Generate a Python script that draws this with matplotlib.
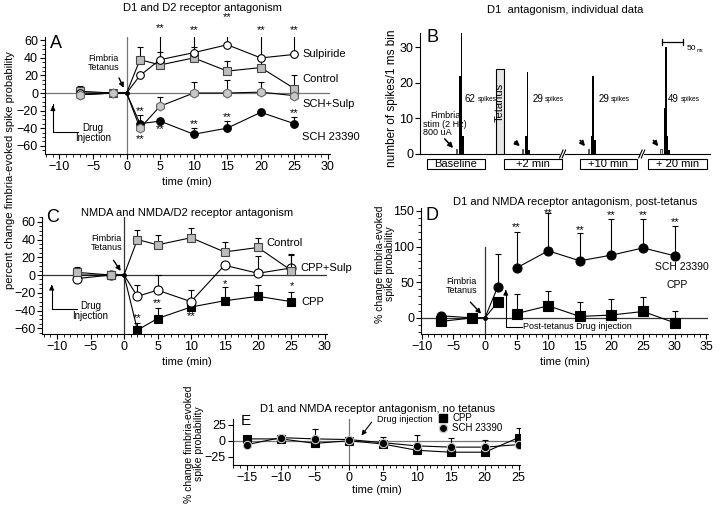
import matplotlib
matplotlib.use('Agg')
import matplotlib.pyplot as plt
from matplotlib.patches import Rectangle
from matplotlib.ticker import MultipleLocator
import numpy as np

plt.rcParams['font.family'] = ['Liberation Sans', 'DejaVu Sans']

W, H = 720, 512

# ---- panel A: D1 and D2 receptor antagonism
time_ac = [-7, -2, 0, 2, 5, 10, 15, 20, 25]
a_sch = [-2, 0, 0, -35, -32, -47, -40, -22, -35]
a_sch_err = [0, 0, 0, 10, 0, 7, 8, 0, 8]
a_schsulp = [-2, 0, 0, -40, -15, 0, 0, 1, -3]
a_schsulp_err = [0, 0, 0, 0, 10, 12, 15, 12, 0]
a_ctrl = [2, 0, 0, 38, 32, 40, 25, 29, 5]
a_ctrl_err = [6, 0, 0, 14, 15, 12, 12, 12, 15]
a_sulp = [0, 0, 0, 20, 38, 46, 55, 40, 44]
a_sulp_err = [0, 0, 0, 0, 33, 22, 28, 30, 26]
a_stars = [(5, 75, '**'), (10, 73, '**'), (15, 87, '**'), (20, 72, '**'), (25, 73, '**'),
           (2, -20, '**'), (2, -52, '**'), (5, -40, '**'), (10, -35, '**'), (15, -27, '**'),
           (25, -22, '**')]

# ---- panel B: individual histograms
trace_t0 = [85, 237.7, 389.6, 557.9]
spike_offsets = [7.5, 11.3, 15.0, 18.8]
spike_heights = [[22, 34, 5], [5, 23, 1], [5, 22, 4], [13, 30, 5, 1]]
spike_totals = ['62', '29', '29', '49']
spike_label_x = [104, 260, 413, 574]
box_labels = ['Baseline', '+2 min', '+10 min', '+ 20 min']
box_ranges = [(15.5, 150.5), (194.5, 328), (370, 502), (528, 664)]

# ---- panel C: NMDA and NMDA/D2 receptor antagonism
c_cpp = [0, 0, 0, -62, -49, -36, -29, -24, -30]
c_cpp_err = [0, 0, 0, 8, 12, 0, 15, 13, 11]
c_cppsulp = [-4, 0, 0, -24, -17, -30, 11, 2, 8]
c_cppsulp_err = [0, 0, 0, 13, 17, 13, 0, 19, 16]
c_ctrl = [3, 0, 0, 40, 34, 42, 26, 31, 5]
c_ctrl_err = [6, 0, 0, 11, 11, 11, 11, 11, 17]
c_stars = [(2, -48, '**'), (5, -31, '**'), (10, -46, '**'), (15, -9, '*'), (25, -12, '*')]

# ---- panel D: post-tetanus
time_d = [-7, -2, 0, 2, 5, 10, 15, 20, 25, 30]
d_sch = [3, 0, 0, 43, 70, 94, 80, 88, 98, 87]
d_sch_err = [0, 0, 0, 47, 51, 53, 39, 51, 41, 42]
d_cpp = [-5, 0, 0, 22, 6, 17, 2, 4, 9, -7]
d_cpp_err = [0, 0, 0, 0, 27, 21, 20, 23, 20, 17]
d_stars = [(5, 128, '**'), (10, 148, '**'), (15, 124, '**'), (20, 145, '**'), (25, 145, '**'),
           (30, 135, '**')]

# ---- panel E: no tetanus
time_e = [-15, -10, -5, 0, 5, 10, 15, 20, 25]
e_cpp = [3, 3, -4, 0, -5, -15, -18, -18, 5]
e_cpp_err = [0, 0, 0, 0, 0, 0, 0, 0, 15]
e_sch = [-6, 5, 3, 2, -3, -8, -10, -10, -6]
e_sch_err = [0, 0, 15, 0, 9, 17, 14, 11, 0]

GRAY = '#bdbdbd'


def fx(x):
    return x / W


def fy(y):
    return 1 - y / H


def make_axes(fig, left, right, top, bottom):
    ax = fig.add_axes([fx(left), fy(bottom), (right - left) / W, (bottom - top) / H])
    ax.patch.set_alpha(0)
    for s in ['top', 'right']:
        ax.spines[s].set_visible(False)
    for s in ['left', 'bottom']:
        ax.spines[s].set_linewidth(0.8)
    ax.tick_params(which='major', direction='out', length=3.5, width=0.8, labelsize=9, pad=1.5)
    ax.tick_params(which='minor', direction='out', length=2, width=0.6)
    return ax


def series(ax, x, y, err, marker, face, ms=5.5, edge='black', z=3, segments=None, skip_zero=True):
    x = np.asarray(x, float)
    y = np.asarray(y, float)
    err = np.asarray(err, float)
    m = err > 0
    if m.any():
        ax.errorbar(x[m], y[m], yerr=[np.zeros(m.sum()), err[m]], fmt='none', ecolor='black',
                    elinewidth=0.8, capsize=2.5, capthick=0.8, zorder=z - 0.5)
    parts = segments or [slice(None)]
    for sl in parts:
        ax.plot(x[sl], y[sl], '-', color='black', lw=0.8, zorder=z - 0.2)
    keep = x != 0 if skip_zero else np.ones(len(x), bool)
    ax.plot(x[keep], y[keep], ls='none', marker=marker, ms=ms, mfc=face, mec=edge, mew=0.8, zorder=z)


def stars(ax, items, fs=8):
    for x, y, s in items:
        ax.annotate(s, xy=(x, y), xytext=(0, -0.5), textcoords='offset points',
                    ha='center', va='center', fontsize=fs, zorder=6, annotation_clip=False)


fig = plt.figure(figsize=(7.2, 5.12), dpi=100)

# ================= A
ax = make_axes(fig, 45, 330, 37.3, 154)
ax.set_xlim(-12.15, 30.3)
ax.set_ylim(-69.5, 63.5)
ax.xaxis.set_minor_locator(MultipleLocator(1))
ax.yaxis.set_minor_locator(MultipleLocator(5))
ax.set_xticks([-10, -5, 0, 5, 10, 15, 20, 25, 30])
ax.set_yticks([-60, -40, -20, 0, 20, 40, 60])
ax.axhline(0, color='#777777', lw=0.9, zorder=1)
ax.axvline(0, color='#777777', lw=0.9, zorder=1)
series(ax, time_ac, a_sch, a_sch_err, 'o', 'black', z=3)
series(ax, time_ac, a_ctrl, a_ctrl_err, 's', GRAY, edge='#444444', z=4)
series(ax, time_ac, a_sulp, a_sulp_err, 'o', 'white', z=5)
series(ax, time_ac, a_schsulp, a_schsulp_err, 'h', '#c8c8c8', ms=6.5, edge='#666666', z=6)
ax.plot([0], [0], 'o', color='black', ms=2.5, zorder=7)
stars(ax, a_stars)
for txt, yv in [('Sulpiride', 45), ('Control', 16), ('SCH+Sulp', -12), ('SCH 23390', -50)]:
    ax.text(26.2, yv, txt, fontsize=8, va='center', ha='left')
ax.annotate('', xy=(-0.25, 3), xytext=(-1.3, 20),
            arrowprops=dict(arrowstyle='-|>', color='black', lw=1.0, mutation_scale=7))
ax.text(-3.5, 34, 'Fimbria\nTetanus', fontsize=6.5, ha='center', va='center', linespacing=1.0)
ax.plot([-10.97, -10.97, -7.25], [-13, -44, -44], color='black', lw=0.8, clip_on=False)
ax.annotate('', xy=(-10.97, -11), xytext=(-10.97, -20),
            arrowprops=dict(arrowstyle='-|>', color='black', lw=0.8, mutation_scale=7))
ax.text(-5.0, -45, 'Drug\nInjection', fontsize=7, ha='center', va='center', linespacing=1.0)
fig.text(fx(56), fy(44), 'A', fontsize=13, ha='center', va='center')
fig.text(fx(202), fy(8), 'D1 and D2 receptor antagonism', fontsize=8, ha='center', va='center')
fig.text(fx(187), fy(182), 'time (min)', fontsize=8, ha='center', va='center')
fig.text(fx(10), fy(170), 'percent change fimbria-evoked spike probability', fontsize=8,
         rotation=90, ha='center', va='center')

# ================= B
ax = make_axes(fig, 420, 710, 33, 154)
ax.set_xlim(0, 671)
ax.set_ylim(0, 34)
ax.set_xticks([])
ax.set_yticks([0, 10, 20, 30])
for t0, hts, tot, lx in zip(trace_t0, spike_heights, spike_totals, spike_label_x):
    ax.add_patch(Rectangle((t0 - 1.5, 0), 3.2, 1.5, fc='#e0e0e0', ec='#555555', lw=0.7, zorder=3))
    for off, h in zip(spike_offsets, hts):
        ax.bar(t0 + off, h, width=3.6, color='black', zorder=3)
    ax.text(lx, 15.4, tot, fontsize=7, va='center', ha='left')
    ax.annotate('spikes', xy=(lx, 15.4), xytext=(9, 0), textcoords='offset points',
                fontsize=4.8, va='center', ha='left')
ax.add_patch(Rectangle((175, 0), 20, 24, fc='#e6e6e6', ec='black', lw=0.8, zorder=3))
ax.text(185, 14.6, 'Tetanus', rotation=90, fontsize=8, ha='center', va='center', zorder=4)
for (x0, x1), lab in zip(box_ranges, box_labels):
    ax.add_patch(Rectangle((x0, -4.2), x1 - x0, 2.8, fc='white', ec='black', lw=0.8, clip_on=False))
    ax.text((x0 + x1) / 2, -2.75, lab, fontsize=8, ha='center', va='center', clip_on=False)
for bx in [330, 513]:
    ax.add_patch(Rectangle((bx - 5, -0.6), 10, 1.2, fc='white', ec='none', zorder=5, clip_on=False))
    for dx in [-3, 3]:
        ax.plot([bx + dx - 4, bx + dx + 4], [-1.1, 1.1], color='black', lw=0.8, zorder=6, clip_on=False)
arrows_b = [((81, 1.1), (53, 4.8)), ((236, 1.7), (215, 3.9)), ((386, 1.6), (366.5, 4.4)),
            ((555.6, 1.6), (536, 4.4))]
for head, tail in arrows_b:
    ax.annotate('', xy=head, xytext=tail,
                arrowprops=dict(arrowstyle='-|>', color='black', lw=1.2, mutation_scale=7))
ax.text(58, 9.5, 'Fimbria\nstim (2 Hz)', fontsize=6.5, ha='center', va='center', linespacing=1.0)
ax.text(39, 6, '800 uA', fontsize=6.5, ha='center', va='center')
ax.plot([559.5, 609.5], [31.5, 31.5], color='black', lw=0.9, clip_on=False)
ax.plot([559.5, 559.5], [30.6, 32.4], color='black', lw=0.9, clip_on=False)
ax.plot([609.5, 609.5], [30.6, 32.4], color='black', lw=0.9, clip_on=False)
ax.text(617, 29.6, '50', fontsize=6, ha='left', va='center')
ax.text(640, 29.0, 'ms', fontsize=3.5, ha='left', va='center')
fig.text(fx(432), fy(37.5), 'B', fontsize=13, ha='center', va='center')
fig.text(fx(565), fy(10), 'D1  antagonism, individual data', fontsize=8, ha='center', va='center')
fig.text(fx(392), fy(98), 'number of spikes/1 ms bin', fontsize=8.5, rotation=90,
         ha='center', va='center')

# ================= C
ax = make_axes(fig, 42.3, 327, 217.3, 334)
ax.set_xlim(-12.2, 30.3)
ax.set_ylim(-66.4, 65)
ax.xaxis.set_minor_locator(MultipleLocator(1))
ax.yaxis.set_minor_locator(MultipleLocator(5))
ax.set_xticks([-10, -5, 0, 5, 10, 15, 20, 25, 30])
ax.set_yticks([-60, -40, -20, 0, 20, 40, 60])
ax.axhline(0, color='#333333', lw=0.9, zorder=1)
ax.axvline(0, color='#333333', lw=0.9, zorder=1)
series(ax, time_ac, c_cpp, c_cpp_err, 's', 'black', z=3)
series(ax, time_ac, c_cppsulp, c_cppsulp_err, 'o', 'white', ms=6.5, z=4)
series(ax, time_ac, c_ctrl, c_ctrl_err, 's', GRAY, edge='#444444', ms=6, z=5)
ax.plot([0], [0], 'o', color='black', ms=2.5, zorder=7)
stars(ax, c_stars)
ax.text(21.3, 36, 'Control', fontsize=8, va='center')
ax.text(26.3, 8, 'CPP+Sulp', fontsize=8, va='center')
ax.text(26.5, -30, 'CPP', fontsize=8, va='center')
ax.annotate('', xy=(-0.25, 2), xytext=(-1.8, 19),
            arrowprops=dict(arrowstyle='-|>', color='black', lw=1.0, mutation_scale=7))
ax.text(-2.6, 35.5, 'Fimbria\nTetanus', fontsize=6.5, ha='center', va='center', linespacing=1.0)
ax.plot([-10.8, -10.8, -7.06], [-12, -38, -38], color='black', lw=0.8, clip_on=False)
ax.annotate('', xy=(-10.8, -8), xytext=(-10.8, -16),
            arrowprops=dict(arrowstyle='-|>', color='black', lw=0.8, mutation_scale=7))
ax.text(-5.0, -41, 'Drug\nInjection', fontsize=7, ha='center', va='center', linespacing=1.0)
fig.text(fx(52.5), fy(217), 'C', fontsize=13, ha='center', va='center')
fig.text(fx(187), fy(213), 'NMDA and NMDA/D2 receptor antagonism', fontsize=8, ha='center', va='center')
fig.text(fx(187), fy(362), 'time (min)', fontsize=8, ha='center', va='center')

# ================= D
ax = make_axes(fig, 421, 708.3, 208, 334.3)
ax.set_xlim(-10.1, 35.3)
ax.set_ylim(-23, 154)
ax.xaxis.set_minor_locator(MultipleLocator(1))
ax.yaxis.set_minor_locator(MultipleLocator(10))
ax.set_xticks([-10, -5, 0, 5, 10, 15, 20, 25, 30, 35])
ax.set_yticks([0, 50, 100, 150])
ax.axhline(0, color='#333333', lw=0.9, zorder=1)
ax.plot([0, 0], [-23, 99], color='#333333', lw=0.9, zorder=1)
segs = [slice(0, 4), slice(4, None)]
series(ax, time_d, d_cpp, d_cpp_err, 's', 'black', ms=6.5, z=3, segments=segs)
series(ax, time_d, d_sch, d_sch_err, 'o', 'black', ms=6.5, z=4, segments=segs)
ax.plot([0], [0], 'o', color='black', ms=2.5, zorder=7)
stars(ax, d_stars)
ax.text(26.8, 71, 'SCH 23390', fontsize=7.5, va='center')
ax.text(28.7, 46, 'CPP', fontsize=7.5, va='center')
ax.annotate('', xy=(-0.3, 3), xytext=(-2.6, 25),
            arrowprops=dict(arrowstyle='-|>', color='black', lw=1.0, mutation_scale=7))
ax.text(-3.7, 45, 'Fimbria\nTetanus', fontsize=6.5, ha='center', va='center', linespacing=1.0)
ax.plot([5.8, 3.3, 3.3], [-12.5, -12.5, 35], color='black', lw=0.8)
ax.annotate('', xy=(3.3, 43), xytext=(3.3, 33),
            arrowprops=dict(arrowstyle='-|>', color='black', lw=0.8, mutation_scale=7))
ax.text(6.0, -12.5, 'Post-tetanus Drug injection', fontsize=6.5, va='center', ha='left')
fig.text(fx(432), fy(216), 'D', fontsize=13, ha='center', va='center')
fig.text(fx(575), fy(202), 'D1 and NMDA receptor antagonism, post-tetanus', fontsize=8,
         ha='center', va='center')
fig.text(fx(565), fy(362), 'time (min)', fontsize=8, ha='center', va='center')
fig.text(fx(385), fy(264), '% change fimbria-evoked\nspike probability', fontsize=7.5, rotation=90,
         ha='center', va='center', linespacing=0.95)

# ================= E
ax = make_axes(fig, 232.7, 520, 419, 465)
ax.set_xlim(-17.1, 25.2)
ax.set_ylim(-38.2, 34.4)
ax.xaxis.set_minor_locator(MultipleLocator(1))
ax.set_xticks([-15, -10, -5, 0, 5, 10, 15, 20, 25])
ax.set_yticks([-25, 0, 25])
ax.axhline(0, color='#777777', lw=0.9, zorder=1)
ax.axvline(0, color='#777777', lw=0.9, zorder=1)
series(ax, time_e, e_cpp, e_cpp_err, 's', 'black', ms=6, z=3, skip_zero=False)
series(ax, time_e, e_sch, e_sch_err, 'o', 'black', ms=6, edge='#cccccc', z=4, skip_zero=False)
ax.annotate('', xy=(1.62, 4.9), xytext=(3.6, 33),
            arrowprops=dict(arrowstyle='-|>', color='black', lw=0.8, mutation_scale=7))
ax.text(4.1, 34, 'Drug injection', fontsize=6.5, va='center', ha='left', clip_on=False)
ax.plot([13.9], [36.5], 's', color='black', ms=6, clip_on=False)
ax.plot([13.9], [20], 'o', color='black', ms=6, mec='#cccccc', clip_on=False)
ax.text(15.2, 36.5, 'CPP', fontsize=7, va='center')
ax.text(15.2, 20, 'SCH 23390', fontsize=7, va='center')
fig.text(fx(246), fy(421), 'E', fontsize=11, ha='center', va='center')
fig.text(fx(377.5), fy(409), 'D1 and NMDA receptor antagonism, no tetanus', fontsize=8,
         ha='center', va='center')
fig.text(fx(377), fy(490), 'time (min)', fontsize=8, ha='center', va='center')
fig.text(fx(194), fy(444), '% change fimbria-evoked\nspike probability', fontsize=7.5, rotation=90,
         ha='center', va='center', linespacing=0.95)

fig.savefig('out.png', dpi=100)
